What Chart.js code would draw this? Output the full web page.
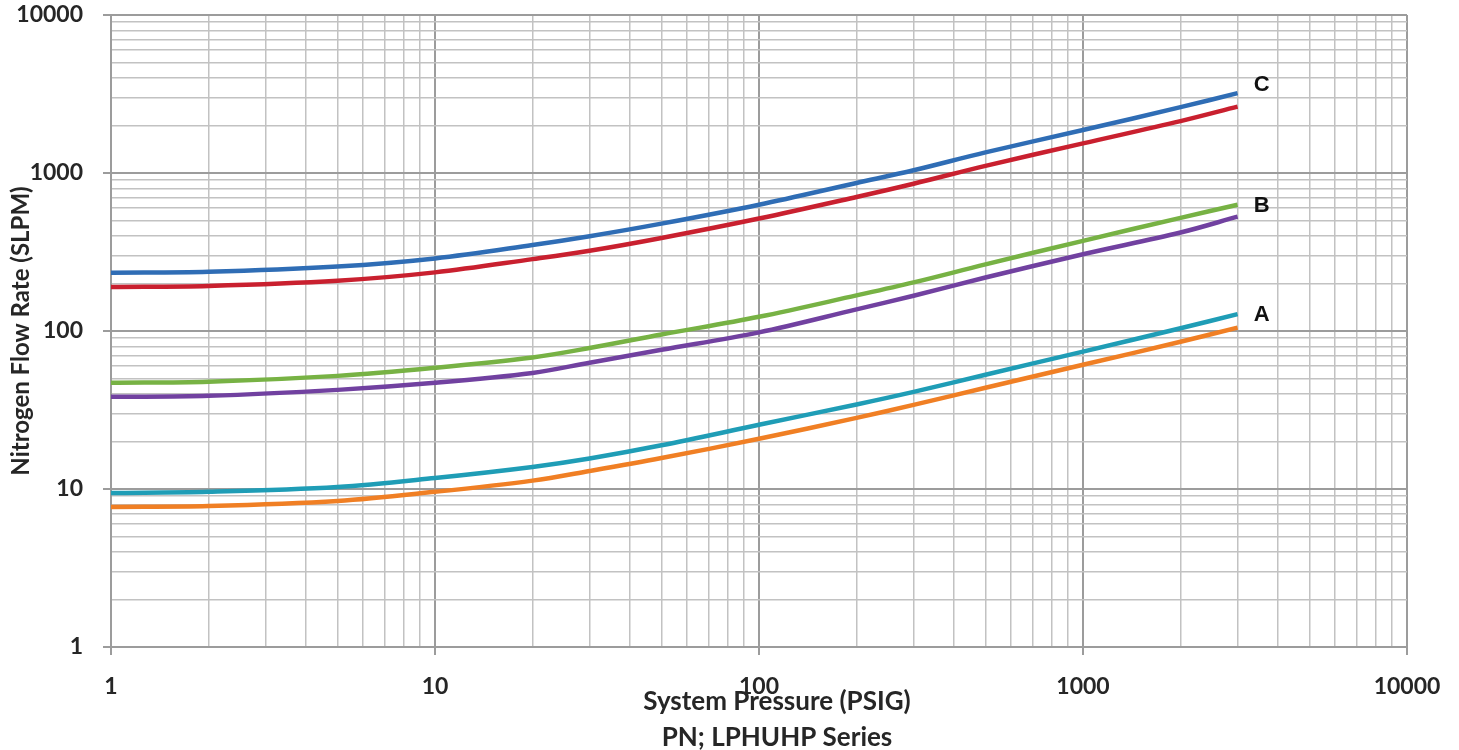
<!DOCTYPE html>
<html>
<head>
<meta charset="utf-8">
<script src="https://cdn.jsdelivr.net/npm/chart.js@4/dist/chart.umd.min.js"></script>
<style>
  html, body { margin: 0; padding: 0; background: #ffffff; }
  #wrap { width: 1459px; height: 750px; }
</style>
</head>
<body>
<div id="wrap"><canvas id="c" width="1459" height="750"></canvas></div>
<script>
// ---- data ----
const pressure = [1, 2, 5, 10, 20, 30, 50, 100, 200, 300, 500, 1000, 2000, 3000];

const seriesCUpper = [234, 237, 256, 288, 350, 398, 478, 630, 865, 1040, 1350, 1870, 2610, 3200];
const seriesCLower = [190, 193, 208, 235, 285, 322, 388, 515, 705, 855, 1110, 1540, 2130, 2630];
const seriesBUpper = [47, 47.7, 52, 58.5, 68, 78, 95, 123, 168, 203, 264, 372, 520, 630];
const seriesBLower = [38.3, 38.9, 42.4, 47, 54.3, 63, 76, 98, 137, 167, 218, 306, 420, 529];
const seriesAUpper = [9.45, 9.6, 10.3, 11.75, 13.8, 15.6, 18.9, 25.5, 34.3, 41.2, 52.9, 74, 104, 128];
const seriesALower = [7.7, 7.8, 8.4, 9.6, 11.3, 13.0, 15.7, 20.8, 28.2, 34.1, 43.7, 61.1, 85.5, 105];

const curveLabels = ['C', 'B', 'A'];
const decades = [1, 10, 100, 1000, 10000];
const gridSteps = [1, 2, 3, 4, 5, 6, 7, 8, 9];

const xTitle = ['System Pressure (PSIG)', 'PN; LPHUHP Series'];
const yTitle = 'Nitrogen Flow Rate (SLPM)';

// ---- build ----
const tickValues = [];
decades.forEach((d, i) => {
  if (i === decades.length - 1) { tickValues.push(d); return; }
  gridSteps.forEach(s => tickValues.push(d * s));
});
const isDecade = v => decades.includes(v);

function pts(ys) { return pressure.map((x, i) => ({ x: x, y: ys[i] })); }

const colors = ['#2f6db5', '#c9202f', '#77b244', '#7141a0', '#1f9db6', '#f07f24'];
const allSeries = [seriesCUpper, seriesCLower, seriesBUpper, seriesBLower, seriesAUpper, seriesALower];
const labelFor = { 0: curveLabels[0], 2: curveLabels[1], 4: curveLabels[2] };
const labelDy = { 0: -8, 2: 1, 4: 1 };

const datasets = allSeries.map((s, i) => ({
  label: labelFor[i] || ('series' + i),
  data: pts(s),
  borderColor: colors[i],
  backgroundColor: colors[i],
  borderWidth: 4.5,
  pointRadius: 0,
  pointHoverRadius: 0,
  fill: false,
  tension: 0.35
}));

const fontFam = 'Lato, "Open Sans", sans-serif';

const annotationPlugin = {
  id: 'curveLabelsAndTitle',
  afterDatasetsDraw(chart) {
    const ctx = chart.ctx;
    ctx.save();
    ctx.font = 'bold 22px "Liberation Sans", Arial, sans-serif';
    ctx.fillStyle = '#111';
    ctx.textAlign = 'center';
    ctx.textBaseline = 'middle';
    Object.keys(labelFor).forEach(k => {
      const idx = Number(k);
      const meta = chart.getDatasetMeta(idx);
      const last = meta.data[meta.data.length - 1];
      ctx.fillText(labelFor[idx], last.x + 24, last.y + labelDy[idx]);
    });
    ctx.restore();
  },
  afterDraw(chart) {
    const ctx = chart.ctx;
    const area = chart.chartArea;
    const cx = (area.left + area.right) / 2 + 18;
    ctx.save();
    ctx.font = 'bold 26px ' + fontFam;
    ctx.fillStyle = '#262626';
    ctx.textAlign = 'center';
    ctx.textBaseline = 'middle';
    ctx.fillText(xTitle[0], cx, area.bottom + 55);
    ctx.fillText(xTitle[1], cx, area.bottom + 91);
    ctx.restore();
  }
};

function axisCommon(titleCfg) {
  return {
    type: 'logarithmic',
    min: 1,
    max: 10000,
    afterBuildTicks: scale => { scale.ticks = tickValues.map(v => ({ value: v })); },
    ticks: {
      autoSkip: false,
      maxRotation: 0,
      minRotation: 0,
      color: '#262626',
      font: { family: fontFam, size: 23, weight: 'bold' },
      callback: v => isDecade(v) ? String(v) : ''
    },
    grid: {
      color: c => (c.tick && isDecade(c.tick.value)) ? '#9c9c9c' : '#c2c2c2',
      lineWidth: c => (c.tick && isDecade(c.tick.value)) ? 2 : 1.5,
      tickColor: c => (c.tick && isDecade(c.tick.value)) ? '#9c9c9c' : 'rgba(0,0,0,0)',
      tickLength: 8,
      drawTicks: true
    },
    border: { color: '#9c9c9c', width: 2 },
    title: titleCfg
  };
}

const xAxis = axisCommon({ display: false });
xAxis.ticks.padding = 18;
xAxis.afterFit = s => { s.height = 103; s.paddingLeft = 0; s.paddingRight = 0; };

const yAxis = axisCommon({
  display: true,
  text: yTitle,
  color: '#262626',
  font: { family: fontFam, size: 24, weight: 'bold', lineHeight: 1.2 },
  padding: { top: 7, bottom: 0 }
});
yAxis.ticks.padding = 20;
yAxis.afterFit = s => { s.width = 111; s.paddingTop = 0; s.paddingBottom = 0; };

new Chart(document.getElementById('c'), {
  type: 'line',
  data: { datasets: datasets },
  options: {
    responsive: false,
    animation: false,
    layout: { padding: { top: 15, right: 52, left: 0, bottom: 0 } },
    plugins: {
      legend: { display: false },
      tooltip: { enabled: false },
      title: { display: false }
    },
    scales: { x: xAxis, y: yAxis }
  },
  plugins: [annotationPlugin]
});
</script>
</body>
</html>
